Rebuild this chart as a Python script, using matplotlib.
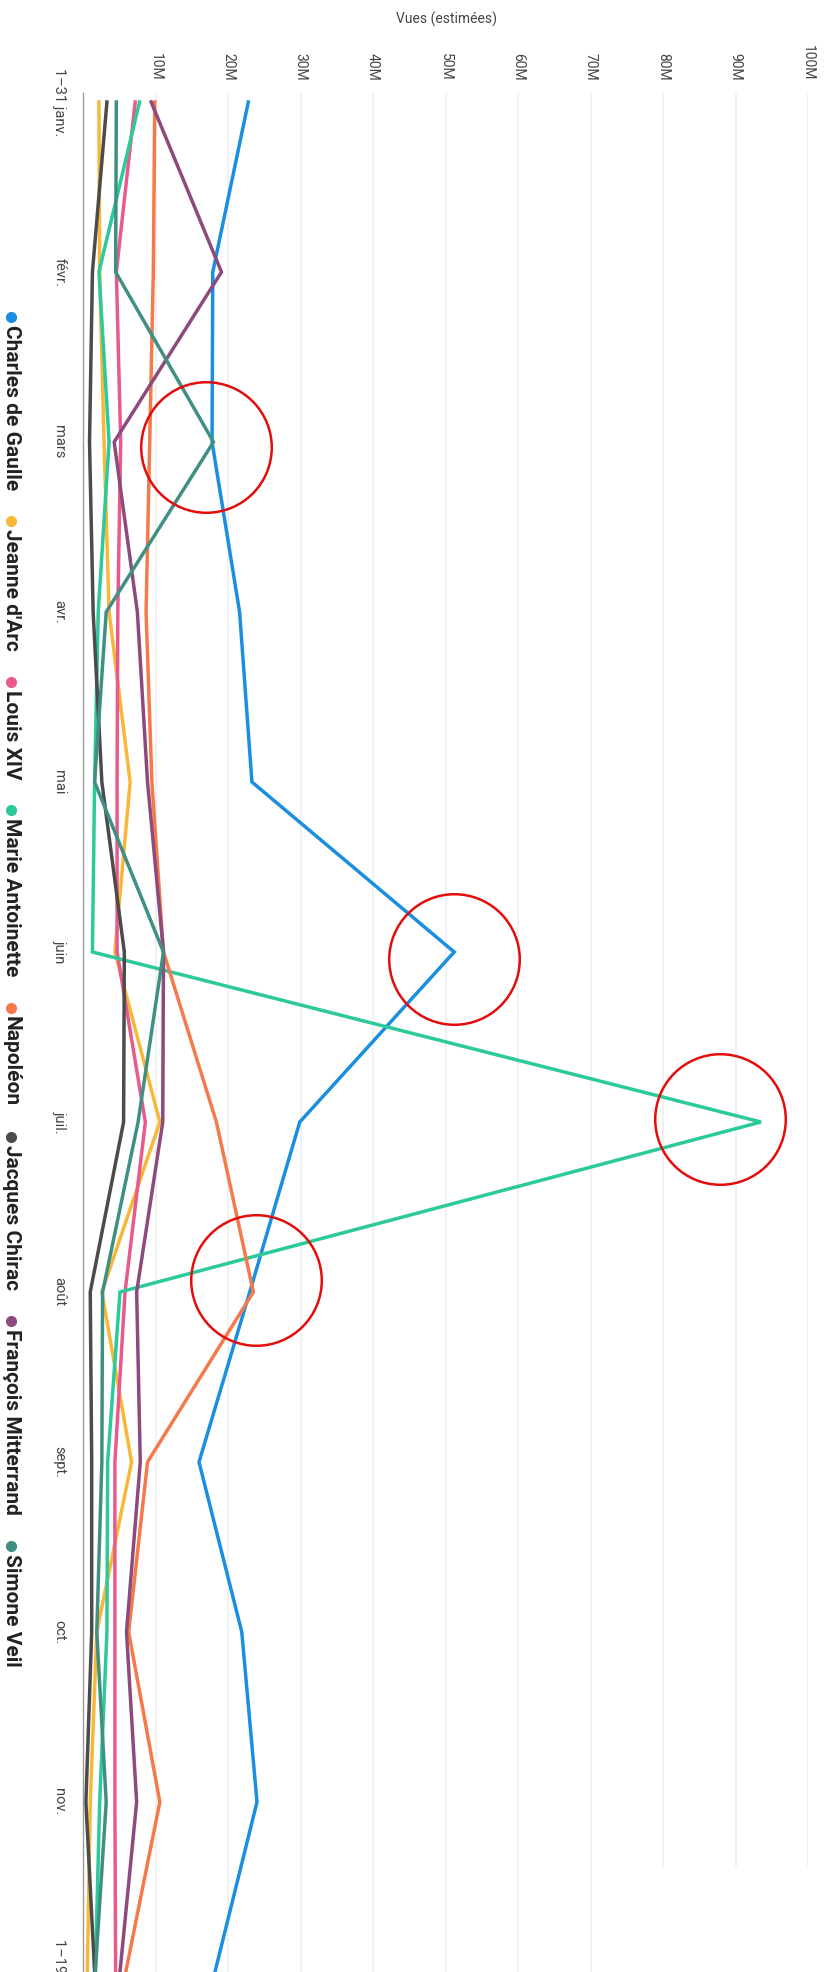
"""
Monthly estimated views of French historical figures, drawn turned a
quarter turn clockwise (months run down the page, views run across).
"""
import matplotlib
matplotlib.use("Agg")
import matplotlib.pyplot as plt

plt.rcParams["font.family"] = ["Roboto", "DejaVu Sans"]

# --- data (millions of views) ---
months = ["1–31 janv.", "févr.", "mars", "avr.", "mai", "juin",
          "juil.", "août", "sept.", "oct.", "nov.", "1–19 déc."]
names = ["Charles de Gaulle", "Jeanne d'Arc", "Louis XIV", "Marie Antoinette",
         "Napoléon", "Jacques Chirac", "François Mitterrand", "Simone Veil"]
colors = ["#1a8fe0", "#f7b83a", "#e85a8c", "#2cc99a",
          "#f47a4c", "#4b4b4b", "#8c4a7e", "#3f8f82"]

de_gaulle  = [22.8, 17.9, 17.8, 21.6, 23.3, 51.2, 29.9, 23.0, 16.0, 21.9, 24.0, 18.2]
jeanne     = [2.2, 2.3, 2.9, 3.6, 6.5, 4.4, 10.6, 2.6, 6.7, 1.9, 1.0, 0.6]
louis_xiv  = [7.2, 4.6, 5.2, 4.8, 4.7, 4.7, 8.6, 5.8, 4.4, 4.4, 4.4, 4.5]
marie_ant  = [7.8, 2.2, 3.6, 2.1, 1.6, 1.3, 93.5, 5.1, 3.4, 3.3, 2.3, 1.7]
napoleon   = [9.9, 9.7, 9.2, 8.7, 9.5, 11.1, 18.4, 23.5, 8.9, 6.3, 10.6, 5.9]
chirac     = [3.3, 1.3, 0.9, 1.4, 2.6, 5.7, 5.6, 1.0, 1.2, 1.2, 0.4, 1.6]
mitterrand = [9.4, 19.1, 4.3, 7.5, 8.9, 11.1, 11.0, 7.4, 7.9, 6.0, 7.4, 5.1]
veil       = [4.6, 4.5, 18.0, 3.2, 1.6, 11.1, 7.6, 2.7, 2.6, 1.9, 3.2, 1.7]
series = [de_gaulle, jeanne, louis_xiv, marie_ant, napoleon, chirac, mitterrand, veil]

ticks = [10, 20, 30, 40, 50, 60, 70, 80, 90, 100]
tick_labels = [f"{t}M" for t in ticks]

# red hand-drawn highlights: (views, month index)
circle_views = [17.0, 51.2, 87.8, 23.8]
circle_months = [2.03, 5.04, 5.98, 6.93]

# --- figure ---
W, H = 825, 1972
fig = plt.figure(figsize=(W / 100, H / 100), dpi=100)
ax = fig.add_axes([83 / W, -9 / H, 725 / W, 1888 / H])
pad = 9 / 170
ax.set_xlim(0, 100)
ax.set_ylim(len(months) - 1 + pad, -pad)

for s in ("top", "right", "bottom"):
    ax.spines[s].set_visible(False)
ax.spines["left"].set_color("#9a9a9a")
ax.spines["left"].set_linewidth(1.0)

# faint gridlines; the upper ones stop short in the reference
for t in ticks:
    ymax = 10.38 if t >= 80 else len(months) - 1 + pad
    ax.vlines(t, -pad, ymax, color="#f1f1f1", lw=1.4, zorder=0)

idx = list(range(len(months)))
for vals, c in zip(series, colors):
    ax.plot(vals, idx, color=c, lw=2.5, solid_joinstyle="miter", zorder=2)

ax.plot(circle_views, circle_months, "o", ms=94, mfc="none", mec="#e30d0d",
        mew=1.8, clip_on=False, zorder=3)

ax.xaxis.tick_top()
ax.set_xticks(ticks, tick_labels)
ax.set_yticks(idx, months)
ax.tick_params(axis="x", length=0, pad=9, labelsize=10, labelcolor="#444444",
               labelrotation=-90)
ax.tick_params(axis="y", length=0, pad=12, labelsize=10.5, labelcolor="#444444",
               labelrotation=-90)
for lbl in ax.get_yticklabels():
    lbl.set_verticalalignment("center")

fig.text(446 / W, 1 - 19 / H, "Vues (estimées)", ha="center", va="center",
         fontsize=10, color="#444444")

# --- legend: one column of items reading downwards, like the rotated chart ---
renderer = fig.canvas.get_renderer()
legend_x = 11
dot_gap, item_gap = 11, 28
texts = [fig.text(0, 0, n, rotation=-90, fontsize=15, fontweight="bold",
                  color="#222222", ha="center", va="top",
                  transform=None) for n in names]
lengths = [t.get_window_extent(renderer).height for t in texts]
total = sum(lengths) + len(names) * dot_gap + (len(names) - 1) * item_gap
y = H - 990 + total / 2
for t, L, c in zip(texts, lengths, colors):
    fig.add_artist(plt.Line2D([legend_x], [y - 3], marker="o", ms=7, color=c,
                              transform=None, lw=0))
    t.set_position((legend_x, y - dot_gap))
    y -= dot_gap + L + item_gap

fig.savefig("out.png", dpi=100)
